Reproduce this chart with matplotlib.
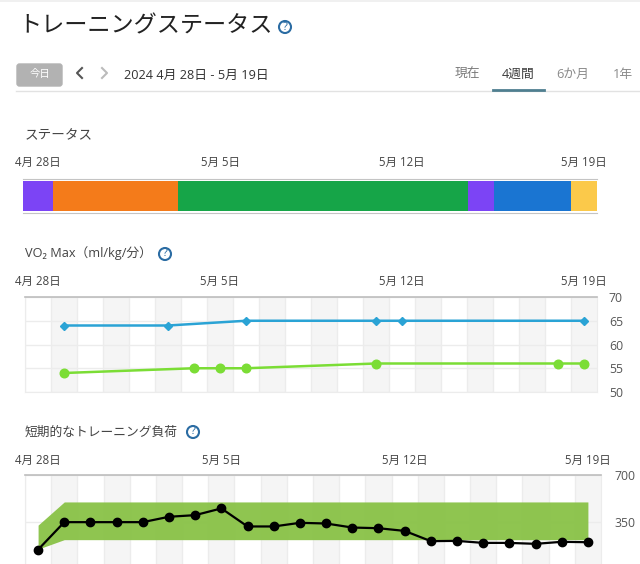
import matplotlib
matplotlib.use("Agg")
import matplotlib.pyplot as plt
from matplotlib.patches import Circle, FancyBboxPatch, Rectangle

plt.rcParams['font.family'] = ['Open Sans', 'Noto Sans CJK JP', 'DejaVu Sans']

W, H = 640, 564

# data
date_days = [0, 7, 14, 21]
date_labels = ["4月 28日", "5月 5日", "5月 12日", "5月 19日"]

status_start = [-0.58, 0.58, 5.38, 16.54, 17.54, 20.5]
status_end = [0.58, 5.38, 16.54, 17.54, 20.5, 21.5]
status_colors = ["#7C44F5", "#F47B1A", "#16A548", "#7C44F5", "#1A75D2", "#FBC94A"]

vo2_ticks = [50, 55, 60, 65, 70]
vo2_blue_days = [1, 5, 8, 13, 14, 21]
vo2_blue = [64, 64, 65, 65, 65, 65]
vo2_green_days = [1, 6, 7, 8, 13, 20, 21]
vo2_green = [54, 55, 55, 55, 56, 56, 56]

load_ticks = [350, 700]
load_days = list(range(22))
load_values = [146, 350, 350, 350, 350, 390, 402, 452, 318, 318, 345,
               340, 310, 305, 285, 209, 211, 196, 196, 189, 204, 201]
load_upper = [328] + [500] * 21
load_lower = [150] + [220] * 21

tab_labels = ["現在", "4週間", "6か月", "1年"]
tab_x = [467, 518, 573, 623]
tab_colors = ["#7A7A7A", "#3C3C3C", "#8A8A8A", "#8A8A8A"]


def px_axes(fig, left, top, right, bottom):
    return fig.add_axes([left / W, 1 - bottom / H, (right - left) / W, (bottom - top) / H])


def date_axis(ax, pad):
    ax.set_xticks(date_days)
    ax.set_xticklabels(date_labels, fontsize=8.3, color="#444444")
    ax.xaxis.tick_top()
    ax.tick_params(axis='x', length=0, pad=pad)


def day_grid(ax):
    ax.set_xlim(-0.5, 21.5)
    for d in range(22):
        if d % 2 == 1:
            ax.axvspan(d - 0.5, d + 0.5, color="#F5F5F5", lw=0, zorder=0)
        ax.axvline(d - 0.5, color="#ECECEC", lw=1, zorder=1)
    for side in ['left', 'right', 'bottom']:
        ax.spines[side].set_color("#ECECEC")
    ax.spines['top'].set_color("#BDBDBD")
    ax.spines['top'].set_linewidth(1.2)


def right_ticks(ax, ticks, pad):
    ax.set_yticks(ticks)
    ax.yaxis.tick_right()
    ax.tick_params(axis='y', length=0, pad=pad, labelsize=8.8, labelcolor="#555555")
    ax.grid(True, axis='y', color="#ECECEC", lw=1, zorder=1)
    ax.set_axisbelow(True)


def help_icon(ax, x, y):
    ax.add_patch(Circle((x, y), 6, fill=False, ec="#2B6CA3", lw=1.5))
    ax.text(x, y, "?", fontsize=8, color="#2B6CA3", ha='center', va='center')


fig = plt.figure(figsize=(W / 100, H / 100), dpi=100)

# page chrome, in pixel coordinates
ui = fig.add_axes([0, 0, 1, 1])
ui.set_xlim(0, W)
ui.set_ylim(H, 0)
ui.axis('off')

ui.add_patch(Rectangle((0, 0), W, 2, color="#F0F0F0", lw=0))
ui.text(18, 26, "トレーニングステータス", fontsize=16.7, color="#222222", va='center')
help_icon(ui, 285, 27)

ui.add_patch(FancyBboxPatch((17, 64), 45, 22, boxstyle="round,pad=0,rounding_size=2.5",
                            fc="#B2B2B2", ec="#B2B2B2", lw=1))
ui.text(39.5, 75, "今日", fontsize=7.5, color="white", ha='center', va='center')
ui.plot([82, 77, 82], [68, 73, 78], color="#555555", lw=1.5)
ui.plot([102, 107, 102], [68, 73, 78], color="#BBBBBB", lw=1.5)
ui.text(124, 75, "2024 4月 28日 - 5月 19日", fontsize=9.2, color="#333333", va='center')

for label, x, c in zip(tab_labels, tab_x, tab_colors):
    ui.text(x, 74.5, label, fontsize=9.2, color=c, ha='center', va='center')
ui.plot([16, W], [90.5, 90.5], color="#E2E2E2", lw=1)
ui.plot([493, 544], [90, 90], color="#4F7F90", lw=2)

ui.text(25, 135.5, "ステータス", fontsize=9.8, color="#444444", va='center')
ui.text(25, 253.5, "VO₂ Max（ml/kg/分）", fontsize=9.2, color="#444444", va='center')
help_icon(ui, 165, 254)
ui.text(25, 432.5, "短期的なトレーニング負荷", fontsize=9.2, color="#444444", va='center')
help_icon(ui, 193, 432)

# status bar
ax1 = px_axes(fig, 23, 179, 597, 213)
for s, e, c in zip(status_start, status_end, status_colors):
    ax1.barh(0, e - s, left=s, height=1, color=c, lw=0)
ax1.set_xlim(status_start[0], status_end[-1])
ax1.set_ylim(-0.55, 0.58)
ax1.set_yticks([])
date_axis(ax1, 7.5)
for side in ['left', 'right']:
    ax1.spines[side].set_visible(False)
for side in ['top', 'bottom']:
    ax1.spines[side].set_color("#C4C4C4")

# VO2 max
ax2 = px_axes(fig, 25, 297, 597, 392)
day_grid(ax2)
right_ticks(ax2, vo2_ticks, 8.5)
ax2.set_ylim(50, 70)
date_axis(ax2, 6.2)
ax2.plot(vo2_blue_days, vo2_blue, color="#2AA3D5", lw=1.8, marker='D', ms=4.2, zorder=3)
ax2.plot(vo2_green_days, vo2_green, color="#7BDD35", lw=1.8, marker='o', ms=6.2, zorder=3)

# short-term training load, axis runs past the bottom of the page
ax3 = px_axes(fig, 25, 475, 601, 569.3)
day_grid(ax3)
right_ticks(ax3, load_ticks, 9.5)
ax3.set_ylim(0, 700)
date_axis(ax3, 6)
ax3.fill_between(load_days, load_lower, load_upper, color="#8BC34A", alpha=0.97, lw=0, zorder=2)
ax3.plot(load_days, load_values, color="black", lw=1.6, marker='o', ms=6, zorder=3)

fig.savefig("out.png", dpi=100)
